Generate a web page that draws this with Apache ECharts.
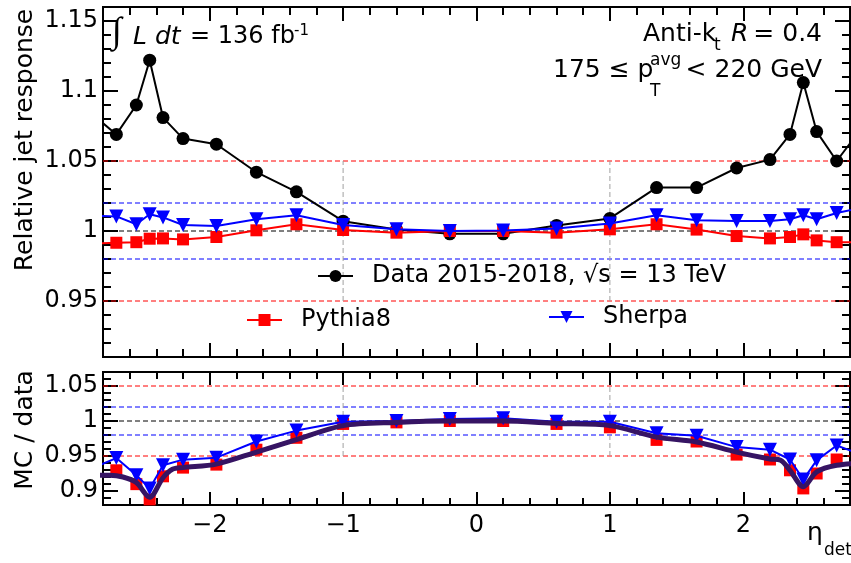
<!DOCTYPE html>
<html>
<head>
<meta charset="utf-8">
<script src="https://cdn.jsdelivr.net/npm/echarts@6/dist/echarts.min.js"></script>
<style>
  html, body { margin: 0; padding: 0; background: #fff; }
  #main { width: 851px; height: 563px; }
</style>
</head>
<body>
<div id="main"></div>
<script>
// eta_det bin centres (the outermost bins sit just outside the drawn range)
const etaBins = [-2.9, -2.7, -2.55, -2.45, -2.35, -2.2, -1.95, -1.65, -1.35, -1.0, -0.6, -0.2,
                 0.2, 0.6, 1.0, 1.35, 1.65, 1.95, 2.2, 2.35, 2.45, 2.55, 2.7, 2.9];

// relative jet response, upper panel
const dataResp   = [1.085, 1.069, 1.090, 1.122, 1.081, 1.066, 1.062, 1.042, 1.028, 1.007, 1.001, 0.998,
                    0.998, 1.004, 1.009, 1.031, 1.031, 1.045, 1.051, 1.069, 1.106, 1.071, 1.050, 1.075];
const pythiaResp = [0.991, 0.9916, 0.992, 0.9945, 0.9947, 0.994, 0.9957, 1.0005, 1.0048, 1.0007, 0.9988, 1.000,
                    1.000, 0.9988, 1.0012, 1.0048, 1.001, 0.9964, 0.9947, 0.9957, 0.9976, 0.9933, 0.992, 0.992];
const sherpaResp = [1.011, 1.0104, 1.0048, 1.012, 1.0097, 1.0043, 1.0036, 1.0084, 1.0113, 1.0043, 1.0012, 1.000,
                    1.0003, 1.0017, 1.0053, 1.0113, 1.0077, 1.0072, 1.0072, 1.0084, 1.0113, 1.0084, 1.0128, 1.017];

// MC / data, lower panel
const pythiaRatio = [0.914, 0.9296, 0.9098, 0.888, 0.921, 0.9334, 0.9377, 0.959, 0.976, 0.9958, 0.998, 1.000,
                     1.000, 0.9958, 0.991, 0.973, 0.9707, 0.952, 0.945, 0.9296, 0.9037, 0.925, 0.945, 0.930];
const sherpaRatio = [0.931, 0.947, 0.9225, 0.9037, 0.9367, 0.9448, 0.9476, 0.9707, 0.9863, 0.999, 1.000, 1.0028,
                     1.004, 0.999, 0.999, 0.9825, 0.979, 0.9627, 0.959, 0.945, 0.9164, 0.9438, 0.965, 0.951];

// smoothed combined calibration curve
const fitEta   = [-2.9, -2.75, -2.65, -2.55, -2.45, -2.35, -2.28, -2.2, -1.95, -1.65, -1.35, -1.0, -0.6, -0.2,
                  0.2, 0.6, 1.0, 1.35, 1.65, 1.95, 2.2, 2.28, 2.35, 2.45, 2.55, 2.7, 2.9];
const fitRatio = [0.922, 0.9225, 0.920, 0.912, 0.891, 0.919, 0.931, 0.9334, 0.9384, 0.9556, 0.9735, 0.9934, 0.998, 1.000,
                  1.000, 0.9965, 0.9934, 0.977, 0.970, 0.9556, 0.9457, 0.944, 0.9296, 0.906, 0.9273, 0.9367, 0.940];

// axis ranges and tick labels
const etaRange   = [-2.8, 2.8];
const respRange  = [0.91, 1.16];
const ratioRange = [0.88, 1.07];
const etaTicks   = [-2, -1, 0, 1, 2];
const respTicks  = [0.95, 1, 1.05, 1.1, 1.15];
const ratioTicks = [0.9, 0.95, 1, 1.05];

// guide lines
const redBand   = [0.95, 1.05];
const blueBand  = [0.98, 1.02];
const unity     = [1];
const etaGuides = [-1, 1];

const FONT = 'DejaVu Sans';

function steps(a, b, s) {
  const out = [];
  for (let k = 0; a + k * s <= b + 1e-9; k++) out.push(+(a + k * s).toFixed(4));
  return out;
}
const etaMinor   = steps(etaRange[0], etaRange[1], 0.2);
const respMinor  = steps(respRange[0], respRange[1], 0.01);
const ratioMinor = steps(ratioRange[0], ratioRange[1], 0.01);

function axis(grid, pos, rng, values, len, label) {
  return {
    type: 'value', gridIndex: grid, position: pos, min: rng[0], max: rng[1],
    axisLine: { show: false, onZero: false },
    splitLine: { show: false },
    minorTick: { show: false },
    axisTick: { show: true, inside: true, length: len, customValues: values,
                lineStyle: { color: '#000', width: 2 } },
    axisLabel: label
      ? Object.assign({ show: true, customValues: values, fontFamily: FONT, fontSize: 24, color: '#000' }, label)
      : { show: false }
  };
}

const minusFmt = v => (v < 0 ? '\u2212' + Math.abs(v) : String(v));

const xAxis = [
  axis(0, 'bottom', etaRange, etaTicks, 14),
  axis(0, 'bottom', etaRange, etaMinor, 8),
  axis(0, 'top', etaRange, etaTicks, 14),
  axis(0, 'top', etaRange, etaMinor, 8),
  axis(1, 'bottom', etaRange, etaTicks, 13, { margin: 9, formatter: minusFmt }),
  axis(1, 'bottom', etaRange, etaMinor, 7),
  axis(1, 'top', etaRange, etaTicks, 13),
  axis(1, 'top', etaRange, etaMinor, 7)
];
const yAxis = [
  axis(0, 'left', respRange, respTicks, 15, { margin: 5 }),
  axis(0, 'left', respRange, respMinor, 8),
  axis(0, 'right', respRange, respTicks, 15),
  axis(0, 'right', respRange, respMinor, 8),
  axis(1, 'left', ratioRange, ratioTicks, 15, { margin: 5 }),
  axis(1, 'left', ratioRange, ratioMinor, 8),
  axis(1, 'right', ratioRange, ratioTicks, 15),
  axis(1, 'right', ratioRange, ratioMinor, 8)
];

const pairs = (xs, ys) => xs.map((x, i) => [x, ys[i]]);

function hLine(v, color, ax) {
  return {
    type: 'line', xAxisIndex: ax, yAxisIndex: ax, silent: true, z: 1,
    symbol: 'none', animation: false,
    data: [[etaRange[0], v], [etaRange[1], v]],
    lineStyle: { color, width: 1, type: [5, 3] }
  };
}
function vLine(x, ax) {
  return {
    type: 'line', xAxisIndex: ax, yAxisIndex: ax, silent: true, z: 1,
    symbol: 'none', animation: false,
    data: [[x, redBand[0]], [x, redBand[1]]],
    lineStyle: { color: '#a0a0a0', width: 1, type: [5, 3] }
  };
}

const guideSeries = [];
[0, 4].forEach(ax => {
  redBand.forEach(v => guideSeries.push(hLine(v, '#ff0000', ax)));
  blueBand.forEach(v => guideSeries.push(hLine(v, '#0000ff', ax)));
  unity.forEach(v => guideSeries.push(hLine(v, '#000000', ax)));
  etaGuides.forEach(x => guideSeries.push(vLine(x, ax)));
});

const DATA_NAME = 'Data 2015-2018, \u221As = 13 TeV';

const series = guideSeries.concat([
  {
    name: DATA_NAME, type: 'line', xAxisIndex: 0, yAxisIndex: 0, z: 3,
    data: pairs(etaBins, dataResp), symbol: 'circle', symbolSize: 13,
    itemStyle: { color: '#000' }, lineStyle: { color: '#000', width: 2 }
  },
  {
    name: 'Pythia8', type: 'line', xAxisIndex: 0, yAxisIndex: 0, z: 4,
    data: pairs(etaBins, pythiaResp), symbol: 'rect', symbolSize: 12,
    itemStyle: { color: '#ff0000' }, lineStyle: { color: '#ff0000', width: 2 }
  },
  {
    name: 'Sherpa', type: 'line', xAxisIndex: 0, yAxisIndex: 0, z: 5,
    data: pairs(etaBins, sherpaResp), symbol: 'triangle', symbolRotate: 180, symbolSize: 14,
    itemStyle: { color: '#0000ff' }, lineStyle: { color: '#0000ff', width: 2 }
  },
  {
    name: 'Pythia8 / data', type: 'line', xAxisIndex: 4, yAxisIndex: 4, z: 3,
    data: pairs(etaBins, pythiaRatio), symbol: 'rect', symbolSize: 12,
    itemStyle: { color: '#ff0000' }, lineStyle: { width: 0, opacity: 0 }
  },
  {
    name: 'Sherpa / data', type: 'line', xAxisIndex: 4, yAxisIndex: 4, z: 4,
    data: pairs(etaBins, sherpaRatio), symbol: 'triangle', symbolRotate: 180, symbolSize: 14,
    itemStyle: { color: '#0000ff' }, lineStyle: { color: '#0000ff', width: 2 }
  },
  {
    name: 'Combined', type: 'line', xAxisIndex: 4, yAxisIndex: 4, z: 5,
    data: pairs(fitEta, fitRatio), symbol: 'none', smooth: 0.3,
    lineStyle: { color: '#361463', width: 5 }
  }
]);

function legendBox(name, left, top) {
  return {
    data: [name], left, top, orient: 'horizontal', padding: 0,
    itemWidth: 35, itemHeight: 15, selectedMode: false,
    textStyle: { fontFamily: FONT, fontSize: 24, color: '#000', padding: [0, 0, 0, 14] }
  };
}

function txt(text, x, y, size, extra) {
  return {
    type: 'text', x, y, silent: true,
    style: Object.assign({
      text, fill: '#000', fontFamily: FONT, fontSize: size,
      align: 'left', verticalAlign: 'middle'
    }, extra || {})
  };
}

const graphic = [
  txt('\u222B', 112, 33, 36, { fontWeight: 'lighter' }),
  txt('L dt', 133, 37, 25, { fontStyle: 'italic' }),
  txt('= 136 fb', 190, 37, 24),
  txt('-1', 294, 31, 15),

  txt('Anti-k', 643, 34, 25),
  txt('t', 714, 46, 17),
  txt('R', 731, 34, 25, { fontStyle: 'italic' }),
  txt('= 0.4', 822, 34, 25, { align: 'right' }),

  txt('175 \u2264 p', 553, 70, 25),
  txt('avg', 650, 61, 17),
  txt('T', 650, 92, 17),
  txt('< 220 GeV', 822, 70, 25, { align: 'right' }),

  Object.assign(txt('Relative jet response', 25, 140, 25, { align: 'center' }), { rotation: Math.PI / 2 }),
  Object.assign(txt('MC / data', 25, 430, 25, { align: 'center' }), { rotation: Math.PI / 2 }),

  txt('\u03B7', 807, 533, 25),
  txt('det', 824, 551, 17)
];

const chart = echarts.init(document.getElementById('main'), null, { renderer: 'canvas' });
chart.setOption({
  animation: false,
  backgroundColor: '#fff',
  grid: [
    { left: 103, right: 1, top: 7, height: 350, show: true, borderColor: '#000', borderWidth: 2, backgroundColor: 'transparent' },
    { left: 103, right: 1, top: 372, height: 133, show: true, borderColor: '#000', borderWidth: 2, backgroundColor: 'transparent' }
  ],
  xAxis, yAxis,
  legend: [
    legendBox(DATA_NAME, 317, 264),
    legendBox('Pythia8', 246, 308),
    legendBox('Sherpa', 548, 305)
  ],
  graphic,
  series
});
</script>
</body>
</html>
